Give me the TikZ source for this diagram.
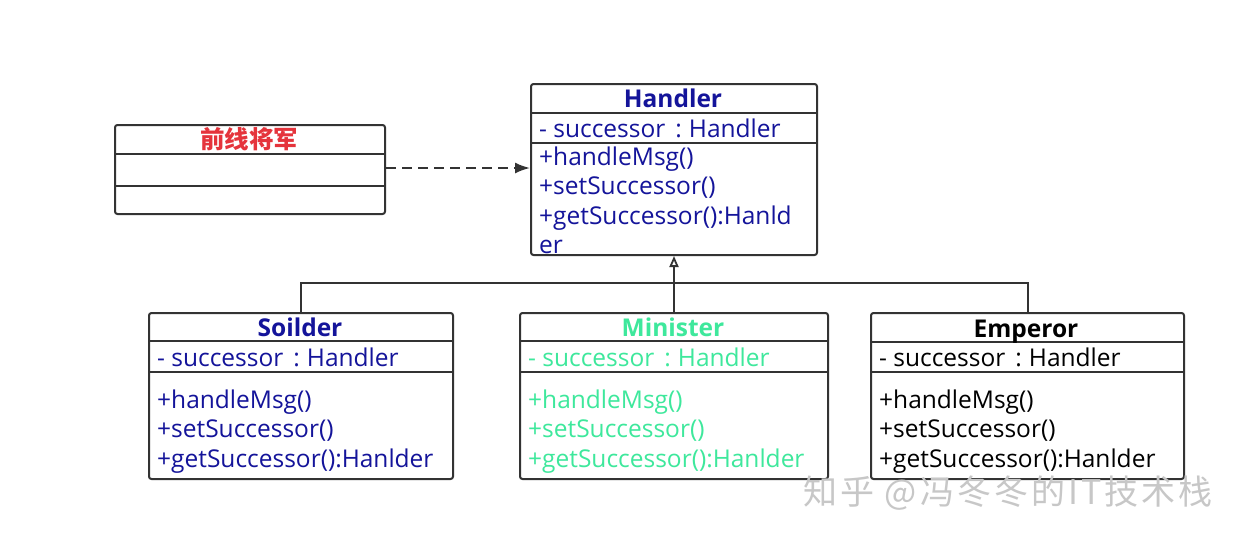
\documentclass[tikz,border=0pt]{standalone}
\usepackage{fontspec}
\setmainfont{Open Sans}
\newfontfamily\cjk{Noto Sans CJK SC}
\usetikzlibrary{arrows.meta}
\definecolor{navy}{HTML}{14149A}
\definecolor{mint}{HTML}{3EE89C}
\definecolor{redt}{HTML}{E5343C}
\definecolor{edge}{HTML}{333333}
\newcommand{\succattr}{- successor\hspace{10pt}:\hspace{7pt}Handler}
\tikzset{
  box/.style={draw=edge, line width=2pt, rounded corners=2.5pt, inner sep=0pt, anchor=north west},
  divider/.style={draw=edge, line width=2pt},
  title/.style={font=\fontsize{24.5}{28}\selectfont\bfseries, inner sep=0pt, anchor=base},
  member/.style={font=\fontsize{24.5}{28}\selectfont, inner sep=0pt, anchor=base west},
  conn/.style={draw=edge, line width=2pt},
}
\begin{document}
\begin{tikzpicture}[x=1pt,y=-1pt]
\useasboundingbox[fill=white] (0,0) rectangle (1245,541);

% ---------- 前线将军 ----------
\node[box, minimum width=270pt, minimum height=89pt] (gen) at (114,124) {};
\draw[divider] (114,154) -- (384,154);
\draw[divider] (114,186) -- (384,186);
\node[title, text=redt, font=\fontsize{24.5}{28}\selectfont\cjk\bfseries] (gent) at (249,148) {前线将军};

% ---------- Handler ----------
\node[box, minimum width=286pt, minimum height=171pt] (hand) at (530,83) {};
\draw[divider] (530,113) -- (816,113);
\draw[divider] (530,143) -- (816,143);
\node[title, text=navy] (handt) at (673,107) {Handler};
\node[member, text=navy] (hand1) at (539,137) {\succattr};
\node[member, text=navy] (hand2) at (539,165) {+handleMsg()};
\node[member, text=navy] (hand3) at (539,194) {+setSuccessor()};
\node[member, text=navy] (hand4) at (539,224) {+getSuccessor():Hanld};
\node[member, text=navy] (hand5) at (539,253) {er};

% ---------- Soilder ----------
\node[box, minimum width=304pt, minimum height=166pt] (soil) at (148,312) {};
\draw[divider] (148,341) -- (452,341);
\draw[divider] (148,372) -- (452,372);
\node[title, text=navy] (soilt) at (300,336) {Soilder};
\node[member, text=navy] (soil1) at (157,366) {\succattr};
\node[member, text=navy] (soil2) at (157,408) {+handleMsg()};
\node[member, text=navy] (soil3) at (157,437) {+setSuccessor()};
\node[member, text=navy] (soil4) at (157,467) {+getSuccessor():Hanlder};

% ---------- Minister ----------
\node[box, minimum width=308pt, minimum height=166pt] (mini) at (519,312) {};
\draw[divider] (519,341) -- (827,341);
\draw[divider] (519,372) -- (827,372);
\node[title, text=mint] (minit) at (673,336) {Minister};
\node[member, text=mint] (mini1) at (528,366) {\succattr};
\node[member, text=mint] (mini2) at (528,408) {+handleMsg()};
\node[member, text=mint] (mini3) at (528,437) {+setSuccessor()};
\node[member, text=mint] (mini4) at (528,467) {+getSuccessor():Hanlder};

% ---------- Emperor ----------
\node[box, minimum width=313pt, minimum height=166pt] (emp) at (870,312) {};
\draw[divider] (870,342) -- (1183,342);
\draw[divider] (870,372) -- (1183,372);
\node[title, text=black] (empt) at (1026,337) {Emperor};
\node[member, text=black] (emp1) at (879,366) {\succattr};
\node[member, text=black] (emp2) at (879,408) {+handleMsg()};
\node[member, text=black] (emp3) at (879,437) {+setSuccessor()};
\node[member, text=black] (emp4) at (879,467) {+getSuccessor():Hanlder};

% ---------- connectors ----------
\draw[conn, dashed, dash pattern=on 10pt off 6pt, -{Latex[length=15pt,width=11pt]}] (gen.east |- 0,168) -- (hand.west |- 0,168);
\coordinate (bus) at (673,283);
\draw[conn, -{Triangle[open,length=11pt,width=9pt,line width=1.8pt]}] (mini.north) -- (hand.south);
\draw[conn] (soil.north) -- (soil.north |- bus) -- (emp.north |- bus) -- (emp.north);

% ---------- watermark ----------
\node[inner sep=0pt, anchor=base, text=black!22, font=\fontsize{34}{38}\selectfont\cjk\addfontfeature{LetterSpace=9}] (wm) at (1008,504) {知乎 @冯冬冬的IT技术栈};
\end{tikzpicture}
\end{document}
